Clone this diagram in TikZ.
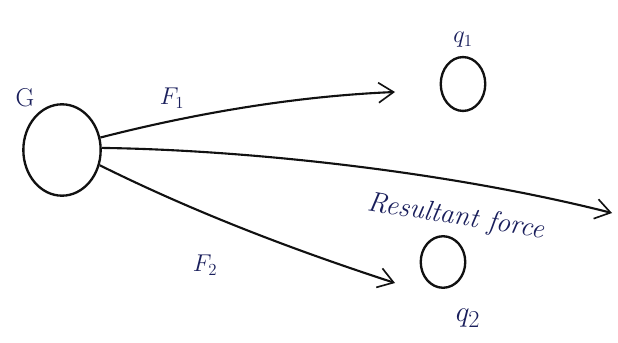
\documentclass[tikz,border=0pt]{standalone}
\usepackage{amsmath,amssymb}
\usetikzlibrary{arrows.meta, positioning, calc, shapes.geometric}
\definecolor{ink}{HTML}{1A1F5C}
\definecolor{pen}{HTML}{111111}

\begin{document}
\begin{tikzpicture}[
  x=0.03cm, y=-0.03cm,
  >={Straight Barb[length=4.5mm, width=6mm, line width=1.4pt]},
  charge/.style n args={2}{draw=pen, line width=2pt, ellipse,
    minimum width=#1, minimum height=#2, inner sep=0pt},
  lbl/.style={font=\fontsize{22}{26}\selectfont, text=ink},
  farr/.style={->, line width=1.8pt, pen},
]

% Background / frame
\fill[white] (0,0) rectangle (618,343);
\useasboundingbox (0,0) rectangle (618,343);

% =============================================
% Charges
% =============================================
\node[charge={66pt}{78pt}] (G) at (62,150) {};
\node[lbl] (lG) at (25,98) {G};

\node[charge={38pt}{46pt}] (q1) at (463,84) {};
\node[lbl] (lq1) at (463,40) {$q_1$};

\node[charge={38pt}{44pt}] (q2) at (443,262) {};
\node[lbl, font=\fontsize{30}{34}\selectfont] (lq2) at (468,318) {$q_2$};

% =============================================
% Force arrows
% =============================================
\coordinate (f1end) at (395,92);
\coordinate (f2end) at (395,283);
\coordinate (rend) at (612,213);

% F1
\draw[farr] (G.18) .. controls (200,112) and (300,96) .. (f1end);
\node[lbl] (lf1) at (172,98) {$F_1$};

% F2
\draw[farr] (G.-22) .. controls (200,215) and (300,252) .. (f2end);
\node[lbl] (lf2) at (205,265) {$F_2$};

% Resultant
\draw[farr] (G.3) .. controls (250,150) and (450,172) .. (rend);
\node[lbl, rotate=-9, anchor=west, inner sep=1pt,
  font=\fontsize{24}{28}\selectfont\itshape]
  (lres) at (366,203) {Resultant force};

\end{tikzpicture}
\end{document}
